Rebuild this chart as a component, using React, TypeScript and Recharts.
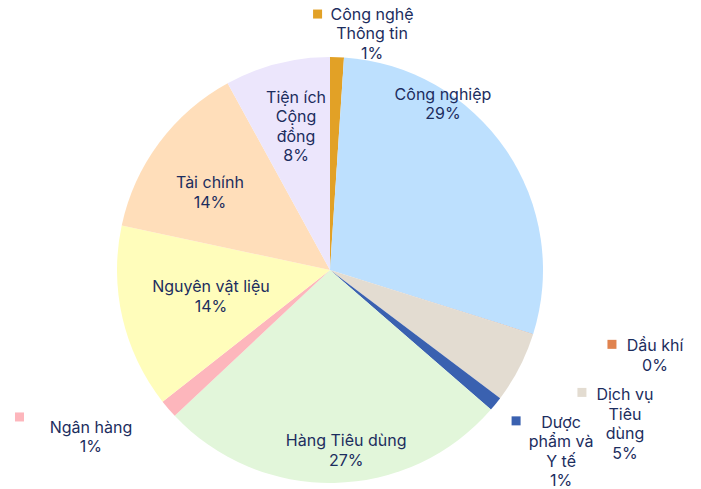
import { Cell, Pie, PieChart } from 'recharts';

// Ngành nghề (theo thứ tự chiều kim đồng hồ từ 12 giờ)
const sectors = [
  'Công nghệ Thông tin',
  'Công nghiệp',
  'Dầu khí',
  'Dịch vụ Tiêu dùng',
  'Dược phẩm và Y tế',
  'Hàng Tiêu dùng',
  'Ngân hàng',
  'Nguyên vật liệu',
  'Tài chính',
  'Tiện ích Cộng đồng',
];

// tỷ trọng (%)
const weights = [1.05, 28.9, 0.02, 5.4, 1.1, 26.7, 1.4, 14.0, 13.7, 8.0];

const colors = [
  '#E2A126',
  '#BDE0FE',
  '#E0834F',
  '#E3DCD1',
  '#3A61B0',
  '#E2F6DA',
  '#FDB6BC',
  '#FFFDBB',
  '#FFDEBA',
  '#ECE6FC',
];

// cách ngắt dòng nhãn
const wrapped: Record<string, string[]> = {
  'Công nghệ Thông tin': ['Công nghệ', 'Thông tin'],
  'Tiện ích Cộng đồng': ['Tiện ích', 'Cộng', 'đồng'],
  'Dịch vụ Tiêu dùng': ['Dịch vụ', 'Tiêu', 'dùng'],
  'Dược phẩm và Y tế': ['Dược', 'phẩm và', 'Y tế'],
};

// label placement: radius as fraction of outerRadius, angle shift (deg), marker offset for outside labels
const spots: Record<string, { r: number; shift: number; box?: [number, number] }> = {
  'Công nghệ Thông tin': { r: 1.128, shift: 8.2, box: [-54.5, 0] },
  'Công nghiệp': { r: 0.945, shift: -21.5 },
  'Dầu khí': { r: 1.577, shift: -2.9, box: [-43, -1] },
  'Dịch vụ Tiêu dùng': { r: 1.561, shift: 0.2, box: [-43, -2] },
  'Dược phẩm và Y tế': { r: 1.378, shift: -0.9, box: [-45, -1] },
  'Hàng Tiêu dùng': { r: 0.848, shift: -4 },
  'Ngân hàng': { r: 1.368, shift: 5.8, box: [-71.5, -10] },
  'Nguyên vật liệu': { r: 0.572, shift: 0.7 },
  'Tài chính': { r: 0.672, shift: -3.7 },
  'Tiện ích Cộng đồng': { r: 0.695, shift: 1.1 },
};

const data = sectors.map((name, i) => ({ name, value: weights[i] }));

const TEXT = '#1C2D5E';
const LH = 19.4;

const renderLabel = (props: any) => {
  const { cx, cy, midAngle, outerRadius, percent, name, index } = props;
  const spot = spots[name];
  const theta = ((90 - midAngle + spot.shift) * Math.PI) / 180;
  const rr = outerRadius * spot.r;
  const x = cx + rr * Math.sin(theta);
  const y = cy - rr * Math.cos(theta);
  const lines = [...(wrapped[name] ?? [name]), `${Math.round(percent * 100)}%`];
  const top = y - ((lines.length - 1) * LH) / 2;
  return (
    <g key={`lbl-${index}`}>
      {spot.box && (
        <rect
          x={x + spot.box[0] - 4.5}
          y={top + spot.box[1] - 4.5}
          width={9}
          height={9}
          fill={colors[index]}
        />
      )}
      <text
        x={x}
        y={top}
        textAnchor='middle'
        fill={TEXT}
        fontSize={16}
        fontFamily='Inter, sans-serif'
      >
        {lines.map((ln, i) => (
          <tspan key={i} x={x} y={top + i * LH} dominantBaseline='central'>
            {ln}
          </tspan>
        ))}
      </text>
    </g>
  );
};

const App = () => (
  <div style={{ position: 'fixed', left: 0, top: 0, width: 701, height: 489, background: '#fff' }}>
    <PieChart width={701} height={489} margin={{ top: 0, right: 0, bottom: 0, left: 0 }}>
      <Pie
        data={data}
        dataKey='value'
        nameKey='name'
        cx={330}
        cy={270}
        outerRadius={213}
        startAngle={90}
        endAngle={-270}
        stroke='none'
        label={renderLabel}
        labelLine={false}
        isAnimationActive={false}
      >
        {data.map((d, i) => (
          <Cell key={d.name} fill={colors[i]} />
        ))}
      </Pie>
    </PieChart>
  </div>
);

export default App;
